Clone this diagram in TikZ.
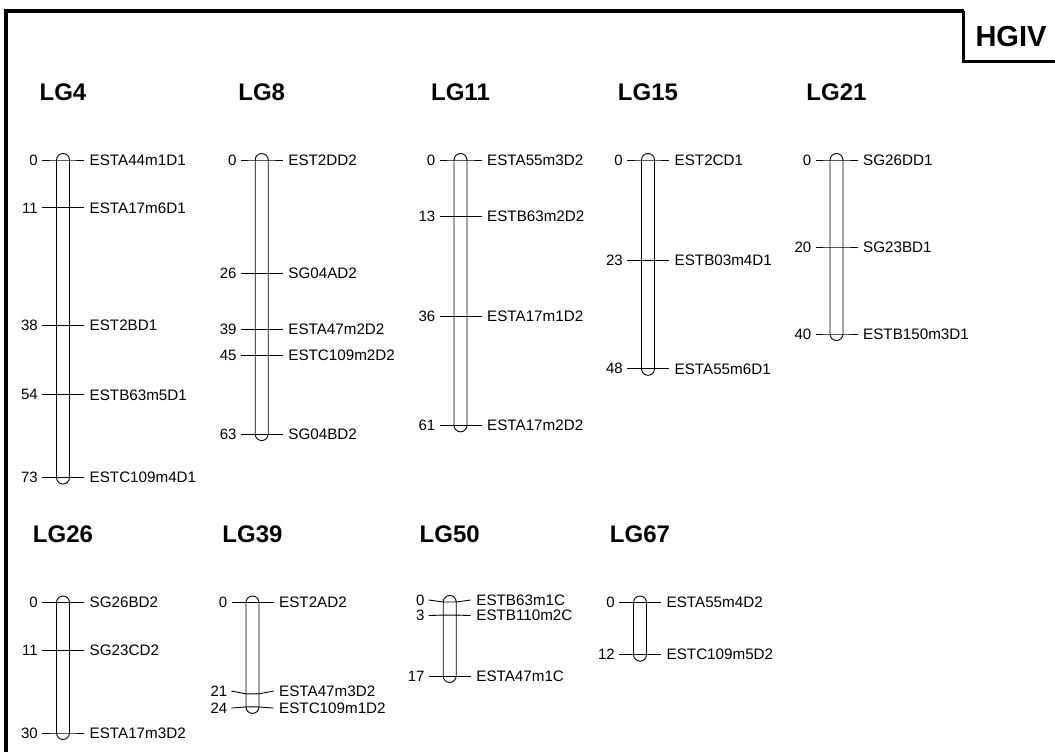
\documentclass[tikz,border=0pt]{standalone}
\usepackage{fontspec}
\setmainfont{Liberation Sans}
\tikzset{
  lgtitle/.style={anchor=base, inner sep=0pt, font=\fontsize{24}{28}\selectfont\bfseries},
  chromo/.style={draw=black, line width=0.9pt, rounded corners=6.5pt},
  tickline/.style={draw=black, line width=0.9pt},
  numlab/.style={anchor=east, inner sep=0pt, font=\fontsize{15}{17}\selectfont},
  mklab/.style={anchor=west, inner sep=0pt, font=\fontsize{15.2}{17}\selectfont},
  frameline/.style={draw=black, line width=4.3pt},
  boxline/.style={draw=black, line width=3pt},
  hglab/.style={anchor=base, inner sep=0pt, font=\fontsize{29}{33}\selectfont\bfseries}
}
% #1 id, #2 cx, #3 y0, #4 length (cM), #5 title
\newcommand\lgchrom[5]{%
  \node[lgtitle] (t#1) at (#2,#3-60) {#5};
  \draw[chromo] (#2-6.5,#3-6.5) rectangle (#2+6.5,#3+#4*4.35+6.5);
}
% #1 id, #2 cx, #3 y0, #4 pos, #5 label offset, #6 number, #7 name
\newcommand\lgmark[7]{%
  \coordinate (#1l) at (#2-21,#3+#4*4.35+#5);
  \coordinate (#1a) at (#2-6.5,#3+#4*4.35);
  \coordinate (#1b) at (#2+6.5,#3+#4*4.35);
  \coordinate (#1r) at (#2+21,#3+#4*4.35+#5);
  \draw[tickline] (#1l) -- (#1a) -- (#1b) -- (#1r);
  \node[numlab] (#1n) at (#2-25,#3+#4*4.35+#5) {#6};
  \node[mklab] (#1m) at (#2+26.5,#3+#4*4.35+#5) {#7};
}
\begin{document}
\begin{tikzpicture}[x=1pt,y=-1pt]
\useasboundingbox (0,0) rectangle (1055,752);
% frame
\coordinate (fa) at (6,800);
\coordinate (fb) at (6,11);
\coordinate (fc) at (963.5,11);
\coordinate (fd) at (963.5,62);
\coordinate (fe) at (1100,62);
\draw[frameline] (fa) -- (fb) -- (fc);
\draw[boxline] (fc) -- (fd) -- (fe);
\node[hglab] (hg) at (1011,47) {HGIV};

% LG4
\lgchrom{a}{63}{160}{73}{LG4}
\lgmark{a1}{63}{160}{0}{0}{0}{ESTA44m1D1}
\lgmark{a2}{63}{160}{11}{0}{11}{ESTA17m6D1}
\lgmark{a3}{63}{160}{38}{0}{38}{EST2BD1}
\lgmark{a4}{63}{160}{54}{0}{54}{ESTB63m5D1}
\lgmark{a5}{63}{160}{73}{0}{73}{ESTC109m4D1}
% LG8
\lgchrom{b}{261.7}{160}{63}{LG8}
\lgmark{b1}{261.7}{160}{0}{0}{0}{EST2DD2}
\lgmark{b2}{261.7}{160}{26}{0}{26}{SG04AD2}
\lgmark{b3}{261.7}{160}{39}{0}{39}{ESTA47m2D2}
\lgmark{b4}{261.7}{160}{45}{0}{45}{ESTC109m2D2}
\lgmark{b5}{261.7}{160}{63}{0}{63}{SG04BD2}
% LG11
\lgchrom{c}{460.5}{160}{61}{LG11}
\lgmark{c1}{460.5}{160}{0}{0}{0}{ESTA55m3D2}
\lgmark{c2}{460.5}{160}{13}{0}{13}{ESTB63m2D2}
\lgmark{c3}{460.5}{160}{36}{0}{36}{ESTA17m1D2}
\lgmark{c4}{460.5}{160}{61}{0}{61}{ESTA17m2D2}
% LG15
\lgchrom{d}{648}{160}{48}{LG15}
\lgmark{d1}{648}{160}{0}{0}{0}{EST2CD1}
\lgmark{d2}{648}{160}{23}{0}{23}{ESTB03m4D1}
\lgmark{d3}{648}{160}{48}{0}{48}{ESTA55m6D1}
% LG21
\lgchrom{e}{836.5}{160}{40}{LG21}
\lgmark{e1}{836.5}{160}{0}{0}{0}{SG26DD1}
\lgmark{e2}{836.5}{160}{20}{0}{20}{SG23BD1}
\lgmark{e3}{836.5}{160}{40}{0}{40}{ESTB150m3D1}

% LG26
\lgchrom{f}{63}{602.5}{30}{LG26}
\lgmark{f1}{63}{602.5}{0}{0}{0}{SG26BD2}
\lgmark{f2}{63}{602.5}{11}{0}{11}{SG23CD2}
\lgmark{f3}{63}{602.5}{30}{0}{30}{ESTA17m3D2}
% LG39
\lgchrom{g}{252.5}{602.5}{24}{LG39}
\lgmark{g1}{252.5}{602.5}{0}{0}{0}{EST2AD2}
\lgmark{g2}{252.5}{602.5}{21}{-2.8}{21}{ESTA47m3D2}
\lgmark{g3}{252.5}{602.5}{24}{1.2}{24}{ESTC109m1D2}
% LG50
\lgchrom{h}{449.7}{602}{17}{LG50}
\lgmark{h1}{449.7}{602}{0}{-2}{0}{ESTB63m1C}
\lgmark{h2}{449.7}{602}{3}{0.5}{3}{ESTB110m2C}
\lgmark{h3}{449.7}{602}{17}{0}{17}{ESTA47m1C}
% LG67
\lgchrom{k}{640}{602.5}{12}{LG67}
\lgmark{k1}{640}{602.5}{0}{0}{0}{ESTA55m4D2}
\lgmark{k2}{640}{602.5}{12}{0}{12}{ESTC109m5D2}
\end{tikzpicture}
\end{document}
